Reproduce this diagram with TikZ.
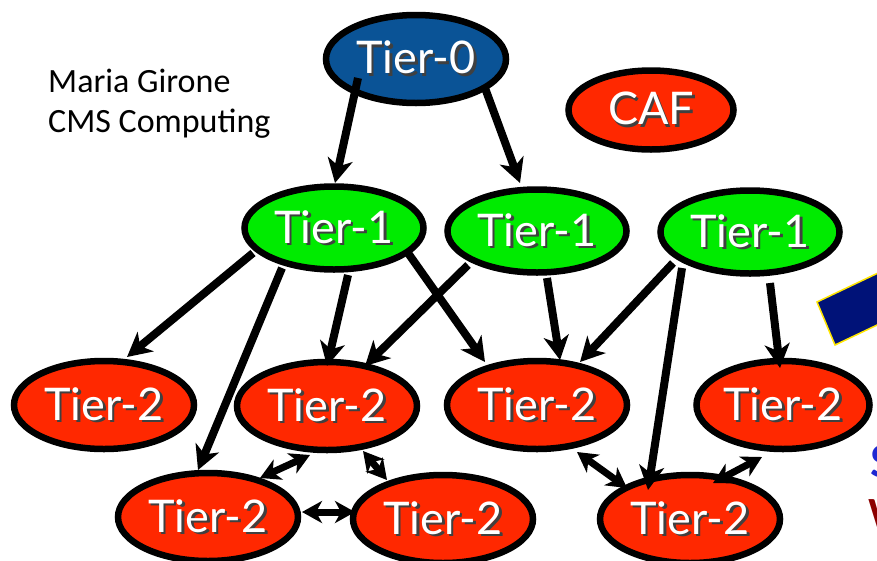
\documentclass[tikz,border=0pt]{standalone}
\usepackage{fontspec}
\setmainfont{Lato}
\newfontfamily\notefont{Carlito}
\usetikzlibrary{arrows.meta,calc,shapes.geometric}
\definecolor{tblue}{RGB}{10,83,150}
\definecolor{tgreen}{RGB}{0,235,0}
\definecolor{tred}{RGB}{255,40,0}
\definecolor{tnavy}{RGB}{0,18,120}
\definecolor{tyellow}{RGB}{255,230,0}
\definecolor{sblue}{RGB}{30,40,210}
\definecolor{sred}{RGB}{140,0,0}
\newcommand\shtxt[1]{\makebox[0pt][l]{\kern2.5pt\raisebox{-2.5pt}{\textcolor{black!75}{#1}}}#1}
\tikzset{
  tier/.style={ellipse, draw=black, line width=6.5pt, inner sep=0pt, text=white,
    font=\fontsize{45}{45}\selectfont, minimum width=180pt, minimum height=88pt},
  t0/.style={tier, fill=tblue},
  t1/.style={tier, fill=tgreen, minimum width=179pt, minimum height=83pt},
  t2/.style={tier, fill=tred},
  flow/.style={line width=8pt, -{Stealth[length=24pt,width=25pt,inset=7pt]}},
  both/.style={line width=7pt, {Stealth[length=20pt,width=22pt,inset=6pt]}-{Stealth[length=20pt,width=22pt,inset=6pt]}},
  note/.style={anchor=base west, inner sep=0pt, font=\notefont\fontsize{34}{34}\selectfont}
}
\begin{document}
\begin{tikzpicture}[x=1pt,y=-1pt]
\useasboundingbox (0,0) rectangle (877,560);
\clip (0,0) rectangle (877,560);
\fill[white] (0,0) rectangle (877,560);

% blue banner piece at the right edge
\draw[fill=tnavy, draw=tyellow, line width=1.5pt] (817,302) -- (835,345) -- (1035,250) -- (1017,207) -- cycle;
\node[anchor=west, inner sep=0pt, text=sblue, font=\bfseries\fontsize{44}{44}\selectfont] (sfrag) at (870,462) {S};
\node[anchor=west, inner sep=0pt, text=sred, font=\bfseries\fontsize{40}{40}\selectfont] (wfrag) at (868,514) {W};

% author note
\node[note] (author) at (48,92) {Maria Girone};
\node[note] (cms) at (48,132) {CMS Computing};

% nodes
\node[t0] (t0) at (416,59) {\shtxt{Tier-0}};
\node[t2, minimum width=165pt, minimum height=79pt] (caf) at (651,110) {\shtxt{CAF}};

\node[t1] (t1a) at (334,228) {\shtxt{Tier-1}};
\node[t1] (t1b) at (537,231) {\shtxt{Tier-1}};
\node[t1] (t1c) at (750,232) {\shtxt{Tier-1}};

\node[t2] (t2a) at (104,405) {\shtxt{Tier-2}};
\node[t2] (t2b) at (327,406) {\shtxt{Tier-2}};
\node[t2] (t2c) at (537,405) {\shtxt{Tier-2}};
\node[t2, minimum width=173pt] (t2d) at (783,405) {\shtxt{Tier-2}};

\node[t2] (t2e) at (208,517) {\shtxt{Tier-2}};
\node[t2] (t2f) at (443,519) {\shtxt{Tier-2}};
\node[t2] (t2g) at (690,519) {\shtxt{Tier-2}};

% one-way flows
\draw[flow] ($(t0)+(-58,19)$) -- ($(t1a)+(1,-45)$);
\draw[flow] ($(t0)+(69,29)$) -- ($(t1b)+(-17,-48)$);
\draw[flow] ($(t1a)+(-81,25)$) -- ($(t2a)+(23,-48)$);
\draw[flow] ($(t1a)+(-52,40)$) -- ($(t2e)+(-10,-47)$);
\draw[flow] ($(t1a)+(14,47)$) -- ($(t2b)+(0,-40)$);
\draw[flow] ($(t1b)+(-69,34)$) -- ($(t2b)+(38,-40)$);
\draw[flow] ($(t1a)+(74,25)$) -- ($(t2c)+(-52,-43)$);
\draw[flow] ($(t1b)+(10,47)$) -- ($(t2c)+(23,-45)$);
\draw[flow] ($(t1c)+(-77,31)$) -- ($(t2c)+(43,-43)$);
\draw[flow] ($(t1c)+(-68,36)$) -- ($(t2g)+(-42,-29)$);
\draw[flow] ($(t1c)+(20,51)$) -- ($(t2d)+(-3,-37)$);

% two-way links
\draw[both] ($(t2b)+(-17,49)$) -- ($(t2e)+(52,-39)$);
\draw[both] ($(t2b)+(36,45)$) -- ($(t2f)+(-56,-39)$);
\draw[both] ($(t2e)+(94,-5)$) -- ($(t2f)+(-88,-7)$);
\draw[both] ($(t2c)+(40,47)$) -- ($(t2g)+(-63,-31)$);
\draw[both] ($(t2d)+(-21,52)$) -- ($(t2g)+(23,-36)$);
\end{tikzpicture}
\end{document}
